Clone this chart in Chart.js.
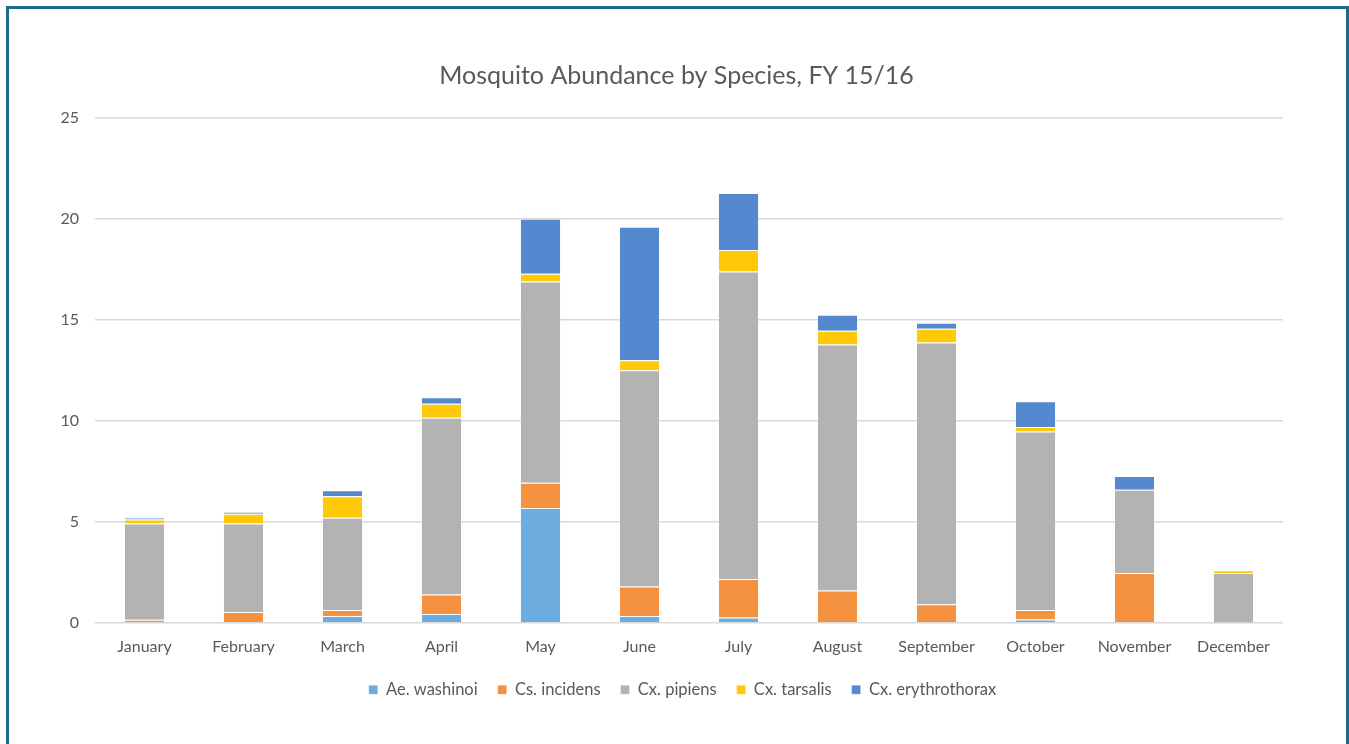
<!DOCTYPE html>
<html>
<head>
<meta charset="utf-8">
<title>Mosquito Abundance by Species, FY 15/16</title>
<script src="https://cdn.jsdelivr.net/npm/chart.js@4.4.1/dist/chart.umd.min.js"></script>
<style>
  html, body { margin: 0; padding: 0; background: #ffffff; overflow: hidden; }
  #wrap { position: relative; width: 1349px; height: 744px; }
  #frame {
    position: absolute; left: 6px; top: 6px; width: 1337px; height: 800px;
    border: 3px solid #1d6b8b; pointer-events: none; box-sizing: content-box;
  }
  canvas { position: absolute; left: 0; top: 0; }
</style>
</head>
<body>
<div id="wrap">
  <canvas id="chart" width="1349" height="744"></canvas>
  <div id="frame"></div>
</div>
<script>
// Monthly trap counts by species, FY 15/16
const months = ['January', 'February', 'March', 'April', 'May', 'June',
                'July', 'August', 'September', 'October', 'November', 'December'];

const aeWashinoi      = [0,    0,    0.34, 0.44, 5.69, 0.34,  0.26, 0,     0,     0.16, 0,    0];
const csIncidens      = [0.15, 0.54, 0.30, 0.96, 1.24, 1.46,  1.91, 1.60,  0.92,  0.48, 2.47, 0.02];
const cxPipiens       = [4.77, 4.38, 4.56, 8.76, 9.97, 10.71, 15.23, 12.18, 12.96, 8.84, 4.12, 2.45];
const cxTarsalis      = [0.20, 0.48, 1.07, 0.69, 0.39, 0.49,  1.06, 0.68,  0.68,  0.22, 0,    0.13];
const cxErythrothorax = [0.10, 0.10, 0.30, 0.32, 2.72, 6.62,  2.83, 0.79,  0.30,  1.27, 0.68, 0];

const yTicks = [0, 5, 10, 15, 20, 25];

const FONT = 'Lato, "Open Sans", sans-serif';
const TEXT = '#595959';

const series = [
  { label: 'Ae. washinoi',      data: aeWashinoi,      color: '#6cacde' },
  { label: 'Cs. incidens',      data: csIncidens,      color: '#f4923f' },
  { label: 'Cx. pipiens',       data: cxPipiens,       color: '#b3b3b3' },
  { label: 'Cx. tarsalis',      data: cxTarsalis,      color: '#ffc90a' },
  { label: 'Cx. erythrothorax', data: cxErythrothorax, color: '#5589cf' }
];

// Centre the title and legend on the framed panel rather than the padded box
const centreBlocks = {
  id: 'centreBlocks',
  afterLayout(chart) {
    if (chart.titleBlock) { chart.titleBlock.left += 25; chart.titleBlock.right += 25; }
    if (chart.legend) { chart.legend.left += 31; chart.legend.right += 31; }
  }
};

new Chart(document.getElementById('chart'), {
  type: 'bar',
  data: {
    labels: months,
    datasets: series.map(s => ({
      label: s.label,
      data: s.data,
      backgroundColor: s.color,
      borderColor: 'rgba(255,255,255,0.3)',
      borderWidth: 1,
      categoryPercentage: 1.0,
      barPercentage: 0.415
    }))
  },
  plugins: [centreBlocks],
  options: {
    responsive: false,
    animation: false,
    devicePixelRatio: 1,
    layout: { padding: { left: 20, right: 66, top: 61, bottom: 36 } },
    plugins: {
      title: {
        display: true,
        text: 'Mosquito Abundance by Species, FY 15/16',
        color: TEXT,
        font: { family: FONT, size: 25, weight: 'normal' },
        padding: { top: 0, bottom: 27 }
      },
      legend: {
        position: 'bottom',
        labels: {
          color: TEXT,
          font: { family: FONT, size: 16.5 },
          boxWidth: 9,
          boxHeight: 9,
          padding: 20
        }
      },
      tooltip: { enabled: false }
    },
    scales: {
      x: {
        stacked: true,
        grid: { display: false, drawTicks: false },
        border: { display: false },
        afterFit: (scale) => { scale.height = scale.height - 8.5; },
        ticks: { color: TEXT, font: { family: FONT, size: 16 }, padding: 14, maxRotation: 0 }
      },
      y: {
        stacked: true,
        min: 0,
        max: 25,
        afterFit: (scale) => { scale.width = 75; },
        afterBuildTicks: (scale) => { scale.ticks = yTicks.map(v => ({ value: v })); },
        grid: { color: '#d9d9d9', lineWidth: 1.5, drawTicks: false },
        border: { display: false },
        ticks: { color: TEXT, font: { family: FONT, size: 16 }, padding: 16 }
      }
    }
  }
});
</script>
</body>
</html>
